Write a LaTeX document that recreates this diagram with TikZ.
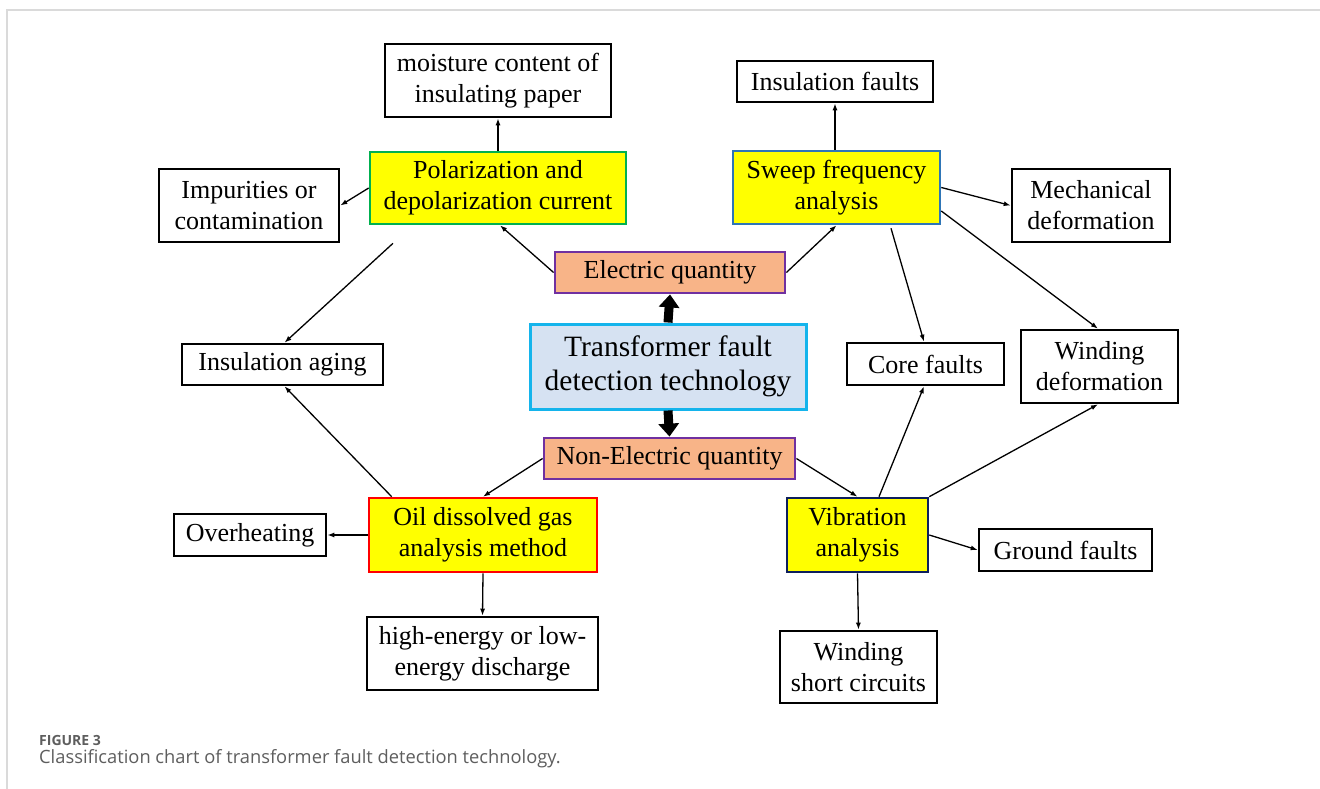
\documentclass[tikz,border=0pt]{standalone}
\usepackage{fontspec}
\setmainfont{Liberation Serif}
\newfontfamily\capfont{Open Sans}
\usetikzlibrary{arrows.meta,calc}

\definecolor{methodfill}{HTML}{FFFF00}
\definecolor{pdcline}{HTML}{00B050}
\definecolor{sfraline}{HTML}{2E75B6}
\definecolor{dgaline}{HTML}{FF0000}
\definecolor{vibline}{HTML}{0D1F5C}
\definecolor{qtyfill}{HTML}{F8B488}
\definecolor{qtyline}{HTML}{7030A0}
\definecolor{rootfill}{HTML}{D6E2F2}
\definecolor{rootline}{HTML}{14B4EC}
\definecolor{framegray}{HTML}{DADADA}
\definecolor{capgray}{HTML}{5E5E5E}

\tikzset{
  box/.style={draw=black, line width=2.6pt, fill=white, inner sep=0pt,
    align=center, font=\fontsize{26}{31}\selectfont},
  method/.style={box, fill=methodfill, line width=2.6pt},
  qty/.style={box, fill=qtyfill, draw=qtyline, line width=2.8pt},
  root/.style={box, fill=rootfill, draw=rootline, line width=3pt,
    font=\fontsize{29.5}{34}\selectfont},
  link/.style={line width=1.3pt, -{Latex[length=7pt,width=5pt]}},
  bigarrow/.style={line width=9pt, -{Triangle[length=13pt,width=20pt]}},
}

\begin{document}
\begin{tikzpicture}[x=1pt,y=-1pt]
  % canvas and page frame
  \fill[white] (0,0) rectangle (1320,789);
  \useasboundingbox (0,0) rectangle (1320,789);
  \draw[framegray, line width=2pt] (1320,10) -- (7,10) -- (7,789);

  % centre of the chart
  \node[root, minimum width=276pt, minimum height=85pt] (trans) at (668,366.5)
    {Transformer fault\\detection technology};
  \node[qty, minimum width=230pt, minimum height=41pt] (elec) at (670,272.5)
    {Electric quantity};
  \node[qty, minimum width=251pt, minimum height=41pt] (nonel) at (669.5,458.5)
    {Non-Electric quantity};

  % detection methods
  \node[method, draw=pdcline, minimum width=256pt, minimum height=72pt] (polar) at (498,188)
    {Polarization and\\depolarization current};
  \node[method, draw=sfraline, minimum width=207pt, minimum height=73pt] (sweep) at (836.5,187.5)
    {Sweep frequency\\analysis};
  \node[method, draw=dgaline, minimum width=228pt, minimum height=74pt] (oil) at (483,535)
    {Oil dissolved gas\\analysis method};
  \node[method, draw=vibline, minimum width=141pt, minimum height=74pt] (vib) at (857.5,535)
    {Vibration\\analysis};

  % faults
  \node[box, minimum width=226pt, minimum height=73pt] (moist) at (498,80.5)
    {moisture content of\\insulating paper};
  \node[box, minimum width=180pt, minimum height=73pt] (impur) at (249,205.5)
    {Impurities or\\contamination};
  \node[box, minimum width=201pt, minimum height=41pt] (aging) at (282.5,364.5)
    {Insulation aging};
  \node[box, minimum width=152pt, minimum height=42pt] (overh) at (250,535)
    {Overheating};
  \node[box, minimum width=231pt, minimum height=73pt] (highe) at (482.5,653.5)
    {high-energy or low-\\energy discharge};
  \node[box, minimum width=196pt, minimum height=41pt] (insf) at (835,81.5)
    {Insulation faults};
  \node[box, minimum width=158pt, minimum height=73pt] (mech) at (1091,205.5)
    {Mechanical\\deformation};
  \node[box, minimum width=157pt, minimum height=42pt] (core) at (925.5,364)
    {Core faults};
  \node[box, minimum width=157pt, minimum height=73pt] (windd) at (1099.5,366.5)
    {Winding\\deformation};
  \node[box, minimum width=173pt, minimum height=42pt] (ground) at (1065.5,550)
    {Ground faults};
  \node[box, minimum width=157pt, minimum height=72pt] (winds) at (858.5,667)
    {Winding\\short circuits};

  % free start points of two connectors
  \coordinate (pdcfree) at ([xshift=-105pt,yshift=-18pt]polar.south);
  \coordinate (sfrafree) at ([xshift=54.5pt,yshift=-3pt]sweep.south);

  % thick arrows from the root
  \draw[bigarrow] (trans.north) -- (elec.south);
  \draw[bigarrow] (trans.south) -- (nonel.north);

  % electric branch
  \draw[link] (elec.west) -- ([xshift=2pt]polar.south);
  \draw[link] (elec.east) -- (sweep.south);
  \draw[link] (polar.north) -- (moist.south);
  \draw[link] (polar.west) -- (impur.east);
  \draw[link] (pdcfree) -- ([xshift=2pt]aging.north);
  \draw[link] ([xshift=-1.5pt]sweep.north) -- (insf.south);
  \draw[link] (sweep.east) -- (mech.west);
  \draw[link] (sfrafree) -- ([xshift=-1.5pt]core.north);
  \draw[link] ([yshift=-23.5pt]sweep.east) -- ([xshift=-1.5pt]windd.north);

  % non-electric branch
  \draw[link] (nonel.west) -- (oil.north);
  \draw[link] (nonel.east) -- (vib.north);
  \draw[link] ([xshift=24pt]oil.north west) -- ([xshift=2pt]aging.south);
  \draw[link] (oil.west) -- (overh.east);
  \draw[link] (oil.south) -- (highe.north);
  \draw[link] ([xshift=21.5pt]vib.north) -- ([xshift=-1.5pt]core.south);
  \draw[link] (vib.north east) -- ([xshift=-1.5pt]windd.south);
  \draw[link] (vib.east) -- (ground.west);
  \draw[link] (vib.south) -- (winds.north);

  % caption
  \node[anchor=west, inner sep=0pt, text=capgray, font=\capfont\bfseries\fontsize{14}{16}\selectfont]
    (figlabel) at (39,740) {FIGURE 3};
  \node[anchor=west, inner sep=0pt, text=capgray, font=\capfont\fontsize{18.3}{21}\selectfont]
    (figcaption) at (39,759) {Classification chart of transformer fault detection technology.};
\end{tikzpicture}
\end{document}
